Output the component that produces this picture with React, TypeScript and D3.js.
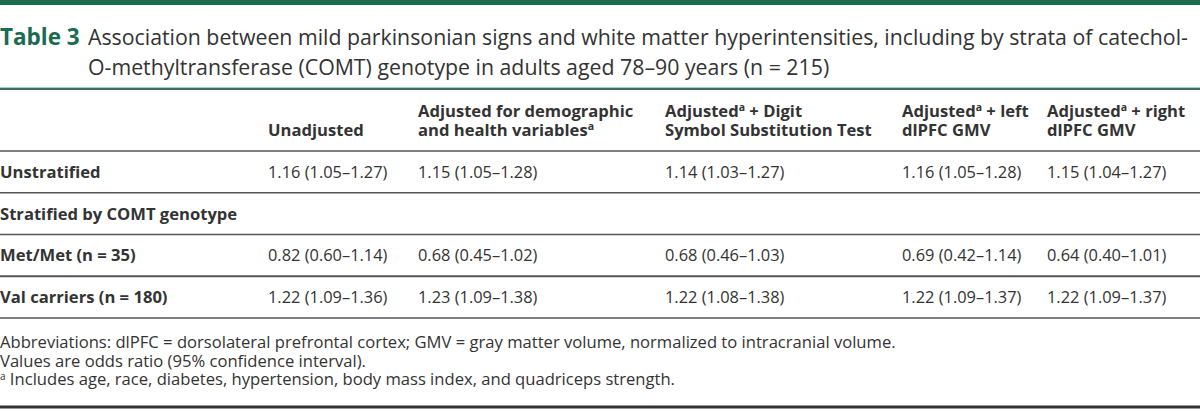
import * as d3 from 'd3';
import { useEffect, useRef } from 'react';

const titleLines = [
  'Association between mild parkinsonian signs and white matter hyperintensities, including by strata of catechol-',
  'O-methyltransferase (COMT) genotype in adults aged 78–90 years (n = 215)'
];

// header cells: each line is a list of [text, superscript?] parts
const headers = [
  [[['Unadjusted', false]]],
  [[['Adjusted for demographic', false]], [['and health variables', false], ['a', true]]],
  [[['Adjusted', false], ['a', true], [' + Digit', false]], [['Symbol Substitution Test', false]]],
  [[['Adjusted', false], ['a', true], [' + left', false]], [['dlPFC GMV', false]]],
  [[['Adjusted', false], ['a', true], [' + right', false]], [['dlPFC GMV', false]]]
];

const rowLabels = ['Unstratified', 'Stratified by COMT genotype', 'Met/Met (n = 35)', 'Val carriers (n = 180)'];

const unstratified = ['1.16 (1.05–1.27)', '1.15 (1.05–1.28)', '1.14 (1.03–1.27)', '1.16 (1.05–1.28)', '1.15 (1.04–1.27)'];
const metMet = ['0.82 (0.60–1.14)', '0.68 (0.45–1.02)', '0.68 (0.46–1.03)', '0.69 (0.42–1.14)', '0.64 (0.40–1.01)'];
const valCarriers = ['1.22 (1.09–1.36)', '1.23 (1.09–1.38)', '1.22 (1.08–1.38)', '1.22 (1.09–1.37)', '1.22 (1.09–1.37)'];

const footnotes = [
  'Abbreviations: dlPFC = dorsolateral prefrontal cortex; GMV = gray matter volume, normalized to intracranial volume.',
  'Values are odds ratio (95% confidence interval).',
  'Includes age, race, diabetes, hypertension, body mass index, and quadriceps strength.'
];

const font = '"Open Sans", "Noto Sans", sans-serif';
const green = '#1b6b4f';
const ink = '#333';

export default function App() {
  const ref = useRef(null);

  useEffect(() => {
    const width = 1200;
    const height = 411;
    const svg = d3.select(ref.current);
    svg.selectAll('*').remove();

    const colX = d3.scaleOrdinal().domain(d3.range(5)).range([268, 418, 665, 902, 1047]);
    // row boundaries, header bottom to last row bottom
    const rowY = d3.scaleLinear().domain([0, 4]).range([151, 318]);
    const rowMid = (i) => (rowY(i) + rowY(i + 1)) / 2;

    svg.append('rect').attr('x', 0).attr('y', 0).attr('width', width).attr('height', 5).attr('fill', green);

    // title
    const title = svg.append('g').attr('font-family', font).attr('font-size', 21.3);
    title.append('text').attr('x', 0).attr('y', 45).attr('fill', green).attr('font-weight', 700)
      .attr('font-size', 22.5).text('Table 3');
    title.selectAll('text.tl').data(titleLines).join('text').attr('class', 'tl')
      .attr('x', 88).attr('y', (d, i) => 45 + i * 30).attr('fill', ink).text((d) => d);

    svg.append('rect').attr('x', 0).attr('y', 87).attr('width', width).attr('height', 1).attr('fill', '#9fd3bd');
    svg.append('rect').attr('x', 0).attr('y', 88).attr('width', width).attr('height', 2).attr('fill', '#3f6e5e');

    // header
    const head = svg.append('g').attr('font-family', font).attr('font-size', 16.6).attr('font-weight', 700).attr('fill', ink);
    headers.forEach((lines, c) => {
      lines.forEach((parts, li) => {
        const y = 136 - (lines.length - 1 - li) * 19;
        const t = head.append('text').attr('x', colX(c)).attr('y', y);
        parts.forEach(([s, sup]) => {
          const ts = t.append('tspan').text(s);
          if (sup) ts.attr('font-size', 10.5).attr('dy', -6);
          else if (t.selectAll('tspan').size() > 1) ts.attr('dy', 6);
        });
      });
    });

    // row separators
    svg.selectAll('line.sep').data(d3.range(4)).join('line').attr('class', 'sep')
      .attr('x1', 0).attr('x2', width)
      .attr('y1', (d) => rowY(d)).attr('y2', (d) => rowY(d))
      .attr('stroke', '#555').attr('stroke-width', (d) => (d === 3 ? 2.2 : 1.6));
    svg.append('line').attr('x1', 0).attr('x2', width).attr('y1', rowY(4)).attr('y2', rowY(4))
      .attr('stroke', '#555').attr('stroke-width', 1.6);

    // row labels
    const body = svg.append('g').attr('font-family', font).attr('fill', ink);
    body.selectAll('text.lbl').data(rowLabels).join('text').attr('class', 'lbl')
      .attr('x', 0).attr('y', (d, i) => rowMid(i) + 6)
      .attr('font-size', 16.6).attr('font-weight', 700).text((d) => d);

    const rows = [[0, unstratified], [2, metMet], [3, valCarriers]];
    rows.forEach(([ri, vals]) => {
      body.selectAll(`text.v${ri}`).data(vals).join('text').attr('class', `v${ri}`)
        .attr('x', (d, i) => colX(i)).attr('y', rowMid(ri) + 6)
        .attr('font-size', 16.4).text((d) => d);
    });

    // footnotes
    const foot = svg.append('g').attr('font-family', font).attr('fill', ink).attr('font-size', 16.6);
    footnotes.forEach((f, i) => {
      const t = foot.append('text').attr('x', 0).attr('y', 348 + i * 18.5);
      if (i === 2) {
        t.append('tspan').attr('font-size', 10).attr('dy', -5).text('a');
        t.append('tspan').attr('dy', 5).text(' ' + f);
      } else t.text(f);
    });

    svg.append('line').attr('x1', 0).attr('x2', width).attr('y1', 407).attr('y2', 407)
      .attr('stroke', '#333').attr('stroke-width', 3);
  }, []);

  return (
    <svg
      ref={ref}
      width={1200}
      height={411}
      style={{ position: 'absolute', left: 0, top: 0, background: '#fff' }}
    />
  );
}
